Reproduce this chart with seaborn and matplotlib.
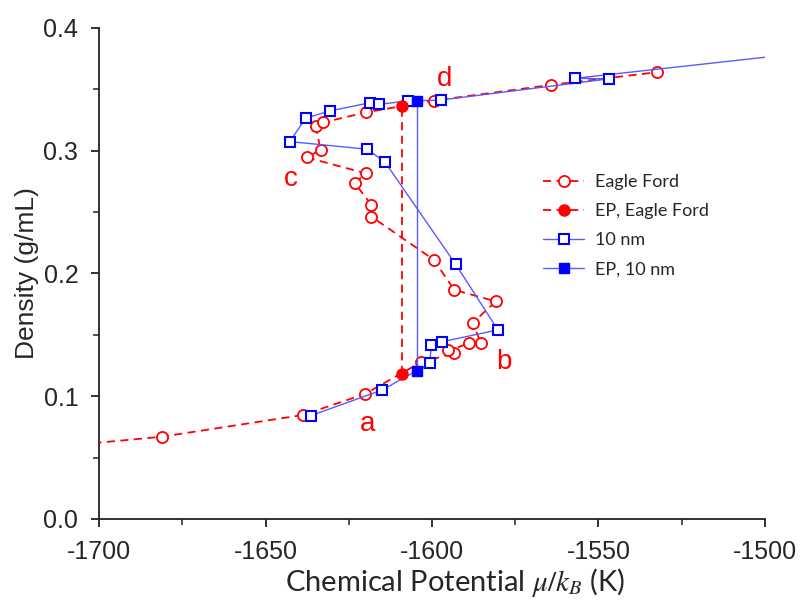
import numpy as np
import pandas as pd
import matplotlib
matplotlib.use("Agg")
import matplotlib.pyplot as plt
import seaborn as sns
from matplotlib.ticker import MultipleLocator

sns.set_theme(style="ticks")
plt.rcParams["font.family"] = ["Liberation Sans", "DejaVu Sans"]
plt.rcParams["mathtext.fontset"] = "stix"
plt.rcParams["axes.unicode_minus"] = False

# Eagle Ford isotherm (chemical potential in K, density in g/mL), in path order
ef_mu = [-1740.0, -1681.2, -1638.8, -1620.2, -1603.4, -1593.3, -1595.1, -1588.9,
         -1585.4, -1587.7, -1580.8, -1593.3, -1599.5, -1618.2, -1618.2, -1623.2,
         -1619.9, -1637.7, -1633.5, -1634.9, -1632.7, -1619.9, -1599.5, -1564.2,
         -1532.5]
ef_rho = [0.052, 0.067, 0.0847, 0.1018, 0.1275, 0.135, 0.1373, 0.143,
          0.1434, 0.160, 0.1772, 0.1866, 0.2112, 0.2463, 0.2558, 0.2735,
          0.2816, 0.2945, 0.3006, 0.3199, 0.323, 0.3312, 0.3408, 0.3536,
          0.3639]

# 10 nm pore isotherm, in path order
nm_mu = [-1636.4, -1614.9, -1600.7, -1600.2, -1597.0, -1580.2, -1592.9, -1614.1,
         -1619.5, -1642.7, -1638.0, -1630.7, -1618.5, -1615.9, -1607.2, -1597.2,
         -1546.9, -1556.9, -1490.0]
nm_rho = [0.0842, 0.1051, 0.1268, 0.142, 0.1444, 0.154, 0.2075, 0.2906,
          0.3012, 0.3074, 0.3264, 0.3324, 0.3391, 0.3378, 0.3405, 0.3413,
          0.3585, 0.359, 0.3791]

# Equilibrium points (coexisting vapour / liquid densities)
ep_ef_mu = [-1608.9, -1608.9]
ep_ef_rho = [0.1185, 0.3366]
ep_nm_mu = [-1604.5, -1604.5]
ep_nm_rho = [0.1206, 0.3405]

# Branch labels
branch_text = ["a", "b", "c", "d"]
branch_mu = [-1619.3, -1578.4, -1642.4, -1596.2]
branch_rho = [0.0775, 0.128, 0.277, 0.358]

red = "#ff0000"
blue = "#0000ff"
blue_line = "#5a5aff"

fig = plt.figure(figsize=(8.0, 6.07), dpi=100)
ax = fig.add_axes([0.124, 0.145, 0.832, 0.809])

ef = pd.DataFrame({"mu": ef_mu, "rho": ef_rho})
nm = pd.DataFrame({"mu": nm_mu, "rho": nm_rho})
ep_ef = pd.DataFrame({"mu": ep_ef_mu, "rho": ep_ef_rho})
ep_nm = pd.DataFrame({"mu": ep_nm_mu, "rho": ep_nm_rho})

sns.lineplot(data=ef, x="mu", y="rho", sort=False, estimator=None, ax=ax,
             color=red, linestyle=(0, (4.5, 3)), linewidth=1.3,
             marker="o", markersize=8, markerfacecolor="white",
             markeredgecolor=red, markeredgewidth=1.3, label="Eagle Ford",
             zorder=3)
sns.lineplot(data=ep_ef, x="mu", y="rho", sort=False, estimator=None, ax=ax,
             color=red, linestyle=(0, (4.5, 3)), linewidth=1.3,
             marker="o", markersize=8, markerfacecolor=red,
             markeredgecolor=red, markeredgewidth=1.0, label="EP, Eagle Ford",
             zorder=4)
sns.lineplot(data=nm, x="mu", y="rho", sort=False, estimator=None, ax=ax,
             color=blue_line, linestyle="-", linewidth=1.0,
             marker="s", markersize=7.5, markerfacecolor="white",
             markeredgecolor=blue, markeredgewidth=1.5, label="10 nm",
             zorder=3)
sns.lineplot(data=ep_nm, x="mu", y="rho", sort=False, estimator=None, ax=ax,
             color=blue_line, linestyle="-", linewidth=1.0,
             marker="s", markersize=7.5, markerfacecolor=blue,
             markeredgecolor=blue, markeredgewidth=1.0, label="EP, 10 nm",
             zorder=4)

for t, xm, ym in zip(branch_text, branch_mu, branch_rho):
    ax.text(xm, ym, t, color=red, fontsize=20, ha="center", va="center",
            family=["Liberation Sans", "DejaVu Sans"])

ax.set_xlim(-1700, -1500)
ax.set_ylim(0.0, 0.4)
ax.xaxis.set_major_locator(MultipleLocator(50))
ax.xaxis.set_minor_locator(MultipleLocator(25))
ax.yaxis.set_major_locator(MultipleLocator(0.1))
ax.yaxis.set_minor_locator(MultipleLocator(0.05))
ax.yaxis.set_major_formatter(matplotlib.ticker.FormatStrFormatter("%.1f"))

for side in ("top", "right"):
    ax.spines[side].set_visible(False)
for side in ("left", "bottom"):
    ax.spines[side].set_linewidth(1.3)
    ax.spines[side].set_color("#222222")

ax.tick_params(which="major", direction="out", length=6, width=1.3,
               labelsize=18, color="#222222")
ax.tick_params(axis="y", which="major", pad=9)
ax.tick_params(axis="x", which="major", pad=9)
ax.tick_params(which="minor", direction="out", length=4, width=1.1,
               color="#222222")

ax.set_xlabel(r"Chemical Potential $\mu/k_B$ (K)", fontsize=21,
              family=["Lato", "DejaVu Sans"])
ax.xaxis.set_label_coords(0.535, -0.095)
ax.set_ylabel("Density (g/mL)", fontsize=19)
ax.yaxis.set_label_coords(-0.09, 0.5)

leg = ax.legend(loc="upper left", bbox_to_anchor=(0.642, 0.735), frameon=False,
                handlelength=2.3, labelspacing=0.72,
                handletextpad=0.6, numpoints=1,
                prop={"family": ["Lato", "DejaVu Sans"], "size": 13})

fig.savefig("out.png", dpi=100)
